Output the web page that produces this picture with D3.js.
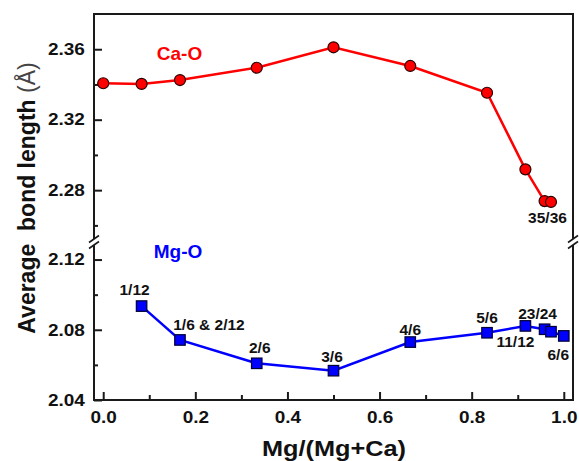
<!DOCTYPE html>
<html>
<head>
<meta charset="utf-8">
<script src="https://cdn.jsdelivr.net/npm/d3@7"></script>
<style>
  html, body { margin: 0; padding: 0; background: #fff; }
  svg { display: block; font-family: Arial, "Liberation Sans", sans-serif; }
</style>
</head>
<body>
<svg id="chart" width="579" height="461"></svg>
<script>
// ---- data ----
const caX = [0, 1/12, 1/6, 1/3, 1/2, 2/3, 5/6, 11/12, 23/24, 35/36];
const caY = [2.3407, 2.3403, 2.3425, 2.3495, 2.3611, 2.3505, 2.3353, 2.2918, 2.2738, 2.2733];
const caLabels = [null, null, null, null, null, null, null, null, null, "35/36"];

const mgX = [1/12, 1/6, 1/3, 1/2, 2/3, 5/6, 11/12, 23/24, 35/36, 1];
const mgY = [2.0935, 2.0742, 2.0609, 2.0567, 2.0730, 2.0783, 2.0822, 2.0803, 2.0789, 2.0765];
const mgLabels = ["1/12", "1/6 & 2/12", "2/6", "3/6", "4/6", "5/6", "11/12", "23/24", null, "6/6"];

const xTicks = [0, 0.2, 0.4, 0.6, 0.8, 1.0];
const xMinorTicks = [0.1, 0.3, 0.5, 0.7, 0.9];
const yTopTicks = [2.28, 2.32, 2.36];
const yTopMinor = [2.26, 2.30, 2.34];
const yBotTicks = [2.04, 2.08, 2.12];
const yBotMinor = [2.06, 2.10];

// ---- layout ----
const L = 94, R = 573, T = 14, B = 400;
const breakA = 239, breakB = 245;
const svg = d3.select("#chart");

const x = d3.scaleLinear().domain([-0.02, 1.02]).range([L, R]);
const yTop = d3.scaleLinear().domain([2.25, 2.38]).range([243, T]);
const yBot = d3.scaleLinear().domain([2.04, 2.13]).range([B, 242]);

const frameColor = "#1a1a1a";
const tickFont = 16.5, tickScale = 1.15;

function styleTicks(g, isY) {
  g.select(".domain").remove();
  g.selectAll(".tick line").attr("stroke", frameColor).attr("stroke-width", 2);
  g.selectAll(".tick text")
    .attr("font-size", tickFont).attr("font-weight", "bold").attr("fill", "#111")
    .attr("transform", `scale(${tickScale},1)`);
}

// Y axis upper
const gYT = svg.append("g").attr("transform", `translate(${L},0)`)
  .call(d3.axisLeft(yTop).tickValues(yTopTicks).tickSize(-8).tickPadding(8).tickFormat(d3.format(".2f")));
styleTicks(gYT, true);
svg.append("g").attr("transform", `translate(${L},0)`)
  .call(d3.axisLeft(yTop).tickValues(yTopMinor).tickSize(-4).tickFormat(""))
  .call(g => { g.select(".domain").remove(); g.selectAll("line").attr("stroke", frameColor).attr("stroke-width", 2); });

// Y axis lower
const gYB = svg.append("g").attr("transform", `translate(${L},0)`)
  .call(d3.axisLeft(yBot).tickValues(yBotTicks).tickSize(-8).tickPadding(8).tickFormat(d3.format(".2f")));
styleTicks(gYB, true);
svg.append("g").attr("transform", `translate(${L},0)`)
  .call(d3.axisLeft(yBot).tickValues(yBotMinor).tickSize(-4).tickFormat(""))
  .call(g => { g.select(".domain").remove(); g.selectAll("line").attr("stroke", frameColor).attr("stroke-width", 2); });

// X axis
const gX = svg.append("g").attr("transform", `translate(0,${B})`)
  .call(d3.axisBottom(x).tickValues(xTicks).tickSize(-8).tickPadding(11).tickFormat(d3.format(".1f")));
styleTicks(gX, false);
svg.append("g").attr("transform", `translate(0,${B})`)
  .call(d3.axisBottom(x).tickValues(xMinorTicks).tickSize(-5).tickFormat(""))
  .call(g => { g.select(".domain").remove(); g.selectAll("line").attr("stroke", frameColor).attr("stroke-width", 2); });

// Frame with breaks
const frame = svg.append("g").attr("stroke", frameColor).attr("stroke-width", 2).attr("fill", "none");
frame.append("line").attr("x1", L).attr("x2", R).attr("y1", T).attr("y2", T);
frame.append("line").attr("x1", L).attr("x2", R).attr("y1", B).attr("y2", B);
[L, R].forEach(xx => {
  frame.append("line").attr("x1", xx).attr("x2", xx).attr("y1", T - 1).attr("y2", breakA);
  frame.append("line").attr("x1", xx).attr("x2", xx).attr("y1", breakB).attr("y2", B + 1);
  [breakA, breakB].forEach(yc => {
    frame.append("line").attr("x1", xx - 5).attr("y1", yc + 3.5).attr("x2", xx + 5).attr("y2", yc - 3.5)
      .attr("stroke-width", 1.6);
  });
});

// Ca-O series
const caData = caX.map((v, i) => ({ x: v, y: caY[i], label: caLabels[i] }));
svg.append("path").datum(caData)
  .attr("fill", "none").attr("stroke", "#ff0000").attr("stroke-width", 2.5)
  .attr("d", d3.line().x(d => x(d.x)).y(d => yTop(d.y)));
svg.append("g").selectAll("circle").data(caData).join("circle")
  .attr("cx", d => x(d.x)).attr("cy", d => yTop(d.y)).attr("r", 5.5)
  .attr("fill", "#ff0000").attr("stroke", "#2a0000").attr("stroke-width", 1.2);

// Mg-O series
const mgData = mgX.map((v, i) => ({ x: v, y: mgY[i], label: mgLabels[i] }));
svg.append("path").datum(mgData)
  .attr("fill", "none").attr("stroke", "#0000ff").attr("stroke-width", 2.5)
  .attr("d", d3.line().x(d => x(d.x)).y(d => yBot(d.y)));
const sq = 10.5;
svg.append("g").selectAll("rect").data(mgData).join("rect")
  .attr("x", d => x(d.x) - sq / 2).attr("y", d => yBot(d.y) - sq / 2)
  .attr("width", sq).attr("height", sq)
  .attr("fill", "#0000ff").attr("stroke", "#000033").attr("stroke-width", 1.2);

// Point labels
const labelStyle = s => s.attr("font-size", 15.5).attr("font-weight", "bold").attr("fill", "#111")
  .attr("text-anchor", "middle");
const mgOffsets = [[-7, -11], [29, -10], [3, -10], [-1.5, -9], [0, -7], [0, -9.5], [-10, 21], [-7, -10], [0, 0], [-5.5, 24]];
mgData.forEach((d, i) => {
  if (!d.label) return;
  svg.append("text").call(labelStyle)
    .attr("x", x(d.x) + mgOffsets[i][0]).attr("y", yBot(d.y) + mgOffsets[i][1]).text(d.label);
});
caData.forEach((d, i) => {
  if (!d.label) return;
  svg.append("text").call(labelStyle)
    .attr("x", x(d.x) - 3.5).attr("y", yTop(d.y) + 21).text(d.label);
});

// Series names
svg.append("text").attr("x", 179.5).attr("y", 60).attr("text-anchor", "middle")
  .attr("font-size", 19).attr("font-weight", "bold").attr("fill", "#ff0000").text("Ca-O");
svg.append("text").attr("x", 178).attr("y", 258).attr("text-anchor", "middle")
  .attr("font-size", 19).attr("font-weight", "bold").attr("fill", "#0000ff").text("Mg-O");

// Axis titles
svg.append("text").attr("transform", "translate(334,456) scale(1.15,1)").attr("text-anchor", "middle")
  .attr("font-size", 22).attr("font-weight", "bold").attr("fill", "#111").text("Mg/(Mg+Ca)");

const yt = svg.append("text").attr("transform", "translate(35,198) rotate(-90)")
  .attr("text-anchor", "middle").attr("font-size", 23).attr("fill", "#111")
  .style("white-space", "pre");
yt.append("tspan").attr("font-weight", "bold").text("Average  bond length ");
yt.append("tspan").attr("font-weight", "normal").attr("fill", "#444").text("(Å)");
</script>
</body>
</html>
